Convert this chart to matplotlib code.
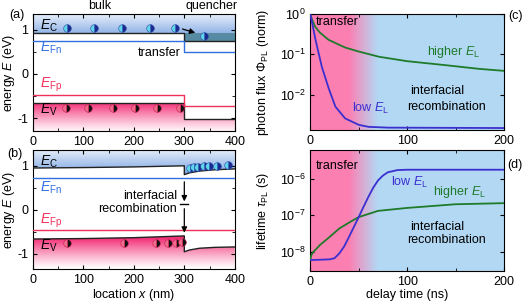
import numpy as np
import matplotlib.pyplot as plt
from matplotlib.patches import Polygon
from matplotlib.ticker import MultipleLocator, NullLocator, LogLocator

plt.rcParams['font.family'] = ['Liberation Sans', 'DejaVu Sans']
plt.rcParams['font.size'] = 9
plt.rcParams['mathtext.fontset'] = 'custom'
plt.rcParams['mathtext.rm'] = 'Liberation Sans'
plt.rcParams['mathtext.it'] = 'Liberation Sans:italic'
plt.rcParams['axes.unicode_minus'] = False

# ---- band diagram (a): flat bands, step at the interface x=300 nm
xa = [0, 300, 300, 400]
ec_a = [0.93, 0.93, 0.74, 0.74]
efn_a = [0.75, 0.75, 0.49, 0.49]
efp_a = [-0.47, -0.47, -0.73, -0.73]
ev_a = [-0.66, -0.66, -1.01, -1.01]
elec_a_x = [67, 121, 176, 232, 281]
elec_a_e = [1.04, 1.04, 1.04, 1.04, 1.04]
hole_a_x = [65, 109, 158, 202, 245, 291]
hole_a_e = [-0.76, -0.76, -0.76, -0.76, -0.76, -0.76]
elec_q_x = [339]
elec_q_e = [0.86]

# ---- band diagram (b): bent bands
xb_bulk = [0, 100, 200, 300]
ec_b_bulk = [0.95, 0.96, 0.975, 1.0]
ev_b_bulk = [-0.66, -0.65, -0.63, -0.59]
xb_q = [300, 310, 330, 360, 400]
ec_b_q = [0.80, 0.84, 0.88, 0.91, 0.93]
ev_b_q = [-0.95, -0.91, -0.87, -0.85, -0.84]
efn_b = 0.73
efp_b = -0.45
elec_b_x = [311, 320, 328, 339, 349, 364, 386]
elec_b_e = [0.95, 0.97, 0.98, 0.99, 1.0, 1.0, 1.01]
hole_b_x = [68, 180, 243, 268, 284, 295]
hole_b_e = [-0.76, -0.76, -0.75, -0.74, -0.74, -0.73]

# ---- (c) normalised photon flux, log10 values
t_c_high = [0, 2, 5, 10, 19, 36, 50, 71, 100, 140, 174, 200]
log_c_high = [0, -0.14, -0.31, -0.46, -0.64, -0.83, -0.93, -1.06, -1.17, -1.27, -1.36, -1.41]
t_c_low = [0, 2, 5.5, 12, 19, 26, 36, 50, 60, 80, 200]
log_c_low = [0, -0.22, -0.64, -1.31, -1.84, -2.30, -2.59, -2.75, -2.80, -2.82, -2.83]

# ---- (d) lifetime, log10 values
t_d_low = [0, 10, 20, 25, 30, 35, 40, 45, 50, 55, 60, 65, 70, 75, 80, 90, 100, 200]
log_d_low = [-8.22, -8.21, -8.2, -8.17, -8.04, -7.85, -7.59, -7.32, -7.05, -6.77,
             -6.5, -6.25, -6.05, -5.92, -5.83, -5.77, -5.76, -5.76]
t_d_high = [0, 1, 3, 5, 10, 20, 30, 40, 50, 70, 100, 150, 200]
log_d_high = [-8.22, -8.1, -8.0, -7.95, -7.81, -7.59, -7.36, -7.2, -7.05, -6.88, -6.8, -6.7, -6.67]

blue_line = '#2f6fe0'
red_line = '#f0305a'
green = '#1f7a2a'
purple = '#3b2fd0'

fig = plt.figure(figsize=(5.24, 3.06), dpi=100)
axa = fig.add_axes([0.063, 0.572, 0.385, 0.382])
axb = fig.add_axes([0.063, 0.121, 0.385, 0.389])
axc = fig.add_axes([0.592, 0.575, 0.370, 0.379])
axd = fig.add_axes([0.592, 0.114, 0.370, 0.395])

E = np.linspace(-1.35, 1.37, 300)
blue_img = np.zeros((300, 1, 4))
blue_img[:, 0, 0] = 0.30
blue_img[:, 0, 1] = 0.52
blue_img[:, 0, 2] = 0.85
blue_img[:, 0, 3] = 0.12 + 0.6 * np.clip((1.37 - E) / 0.55, 0, 1)
pink_img = np.zeros((300, 1, 4))
pink_img[:, 0, 0] = 0.95
pink_img[:, 0, 1] = 0.12
pink_img[:, 0, 2] = 0.42
pink_img[:, 0, 3] = 0.92 * np.clip((E + 1.35) / 0.7, 0, 1) ** 1.2


def band_axes(ax, ylo, yhi):
    ax.set_xlim(0, 400)
    ax.set_ylim(ylo, yhi)
    ax.xaxis.set_major_locator(MultipleLocator(100))
    ax.xaxis.set_minor_locator(MultipleLocator(50))
    ax.yaxis.set_major_locator(MultipleLocator(1))
    ax.yaxis.set_minor_locator(MultipleLocator(0.5))
    ax.tick_params(which='both', direction='in', top=True, right=True, labelsize=9)
    ax.tick_params(which='major', length=3)
    ax.tick_params(which='minor', length=2)
    ax.set_ylabel('energy $E$ (eV)')
    ax.yaxis.set_label_coords(-0.078, 0.5)


def gradient(ax, img, verts):
    poly = Polygon(verts, closed=True, facecolor='none', edgecolor='none')
    ax.add_patch(poly)
    im = ax.imshow(img, extent=[0, 400, E[0], E[-1]], origin='lower', aspect='auto', zorder=0)
    im.set_clip_path(poly)


def carriers(ax, x, e, kind):
    if kind == 'e':
        ax.plot(x, e, 'o', ms=5.5, fillstyle='right', mfc='#1b2a90', mfcalt='#5fd6ea',
                mec='#2a4aa8', mew=0.4, zorder=5)
    else:
        ax.plot(x, e, 'o', ms=5.5, fillstyle='right', mfc='#111111', mfcalt='#f06a8c',
                mec='#c02050', mew=0.4, zorder=5)


# ---------------- (a)
band_axes(axa, -1.29, 1.35)
gradient(axa, blue_img, [(0, 1.4), (0, ec_a[0]), (300, ec_a[1]), (300, ec_a[2]), (400, ec_a[3]), (400, 1.4)])
gradient(axa, pink_img, [(0, -1.4), (0, ev_a[0]), (300, ev_a[1]), (300, ev_a[2]), (400, ev_a[3]), (400, -1.4)])
axa.fill_between([300, 400], ec_a[2], ec_a[0], color='#4f8698', alpha=0.85, lw=0, zorder=1)
axa.plot(xa, ec_a, color='#222222', lw=1.0, zorder=3)
axa.plot(xa, ev_a, color='#222222', lw=1.0, zorder=3)
axa.plot(xa, efn_a, color=blue_line, lw=1.0, zorder=3)
axa.plot(xa, efp_a, color=red_line, lw=1.0, zorder=3)
carriers(axa, elec_a_x, elec_a_e, 'e')
carriers(axa, elec_q_x, elec_q_e, 'e')
carriers(axa, hole_a_x, hole_a_e, 'h')
axa.annotate('', xy=(327, 0.91), xytext=(291, 1.03),
             arrowprops=dict(arrowstyle='-|>', color='black', lw=0.9, mutation_scale=8), zorder=6)
axa.text(14, 1.08, '$E_\\mathrm{C}$', fontsize=10, va='center')
axa.text(14, 0.58, '$E_\\mathrm{Fn}$', fontsize=10, va='center', color=blue_line)
axa.text(14, -0.25, '$E_\\mathrm{Fp}$', fontsize=10, va='center', color=red_line)
axa.text(14, -0.82, '$E_\\mathrm{V}$', fontsize=10, va='center')
axa.text(293, 0.47, 'transfer', ha='right', va='center')
axa.text(133, 1.07, 'bulk', transform=axa.get_xaxis_transform(), ha='center', va='center')
axa.text(354, 1.07, 'quencher', transform=axa.get_xaxis_transform(), ha='center', va='center')
fig.text(0.033, 0.951, '(a)', ha='center', va='center')

# ---------------- (b)
band_axes(axb, -1.34, 1.36)
gradient(axb, blue_img, [(0, 1.4)] + list(zip(xb_bulk, ec_b_bulk)) + list(zip(xb_q, ec_b_q)) + [(400, 1.4)])
gradient(axb, pink_img, [(0, -1.4)] + list(zip(xb_bulk, ev_b_bulk)) + list(zip(xb_q, ev_b_q)) + [(400, -1.4)])
axb.plot(xb_bulk + xb_q, ec_b_bulk + ec_b_q, color='#222222', lw=1.0, zorder=3)
axb.plot(xb_bulk + xb_q, ev_b_bulk + ev_b_q, color='#222222', lw=1.0, zorder=3)
axb.axhline(efn_b, color=blue_line, lw=1.0, zorder=3)
axb.axhline(efp_b, color=red_line, lw=1.0, zorder=3)
carriers(axb, elec_b_x, elec_b_e, 'e')
carriers(axb, hole_b_x, hole_b_e, 'h')
axb.annotate('', xy=(300, 0.13), xytext=(300, 0.70),
             arrowprops=dict(arrowstyle='-|>', color='black', lw=0.9, mutation_scale=8), zorder=6)
axb.plot([292, 308], [0.13, 0.13], color='black', lw=1.0, zorder=6)
axb.annotate('', xy=(300, -0.58), xytext=(300, 0.09),
             arrowprops=dict(arrowstyle='-|>', color='black', lw=0.9, mutation_scale=8), zorder=6)
axb.text(14, 1.1, '$E_\\mathrm{C}$', fontsize=10, va='center')
axb.text(14, 0.5, '$E_\\mathrm{Fn}$', fontsize=10, va='center', color=blue_line)
axb.text(14, -0.25, '$E_\\mathrm{Fp}$', fontsize=10, va='center', color=red_line)
axb.text(14, -0.82, '$E_\\mathrm{V}$', fontsize=10, va='center')
axb.text(285, 0.32, 'interfacial', ha='right', va='center')
axb.text(285, 0.02, 'recombination', ha='right', va='center')
axb.set_xlabel('location $x$ (nm)', labelpad=1)
fig.text(0.029, 0.497, '(b)', ha='center', va='center')

# ---------------- (c), (d) backgrounds
tt = np.linspace(0, 200, 400)
frac = np.clip((tt - 40) / 30, 0, 1)
pink = np.array([0.99, 0.50, 0.70])
light_blue = np.array([0.70, 0.85, 0.96])
bg = (pink[None, :] * (1 - frac[:, None]) + light_blue[None, :] * frac[:, None])[None, :, :]


def time_axes(ax, ylo, yhi):
    ax.imshow(bg, extent=[0, 1, 0, 1], transform=ax.transAxes, aspect='auto', zorder=0)
    ax.set_yscale('log')
    ax.set_xlim(0, 200)
    ax.set_ylim(ylo, yhi)
    ax.xaxis.set_major_locator(MultipleLocator(100))
    ax.xaxis.set_minor_locator(MultipleLocator(50))
    ax.yaxis.set_major_locator(LogLocator(base=10))
    ax.yaxis.set_minor_locator(NullLocator())
    ax.tick_params(which='both', direction='in', top=True, right=True, labelsize=9)
    ax.tick_params(which='major', length=3)
    ax.tick_params(which='minor', length=2)


time_axes(axc, 10 ** -2.88, 1.0)
axc.plot(t_c_high, 10 ** np.array(log_c_high), color=green, lw=1.3, zorder=3)
axc.plot(t_c_low, 10 ** np.array(log_c_low), color=purple, lw=1.3, zorder=3)
axc.text(6, 10 ** -0.2, 'transfer', va='center')
axc.text(120, 10 ** -0.95, 'higher $E_\\mathrm{L}$', color=green, va='center')
axc.text(43, 10 ** -2.35, 'low $E_\\mathrm{L}$', color=purple, va='center')
axc.text(131, 10 ** -1.92, 'interfacial', ha='center', va='center')
axc.text(141, 10 ** -2.32, 'recombination', ha='center', va='center')
axc.set_ylabel('photon flux $\\Phi_\\mathrm{PL}$ (norm)')
axc.yaxis.set_label_coords(-0.2, 0.5)
fig.text(0.983, 0.948, '(c)', ha='center', va='center')

time_axes(axd, 10 ** -8.52, 10 ** -5.23)
axd.plot(t_d_high, 10 ** np.array(log_d_high), color=green, lw=1.3, zorder=3)
axd.plot(t_d_low, 10 ** np.array(log_d_low), color=purple, lw=1.3, zorder=3)
axd.text(6, 10 ** -5.65, 'transfer', va='center')
axd.text(83, 10 ** -6.1, 'low $E_\\mathrm{L}$', color=purple, va='center')
axd.text(127, 10 ** -6.38, 'higher $E_\\mathrm{L}$', color=green, va='center')
axd.text(131, 10 ** -7.32, 'interfacial', ha='center', va='center')
axd.text(141, 10 ** -7.67, 'recombination', ha='center', va='center')
axd.set_ylabel('lifetime $\\tau_\\mathrm{PL}$ (s)')
axd.yaxis.set_label_coords(-0.2, 0.5)
axd.set_xlabel('delay time (ns)', labelpad=1)
fig.text(0.983, 0.46, '(d)', ha='center', va='center')

fig.savefig('out.png', dpi=100)
